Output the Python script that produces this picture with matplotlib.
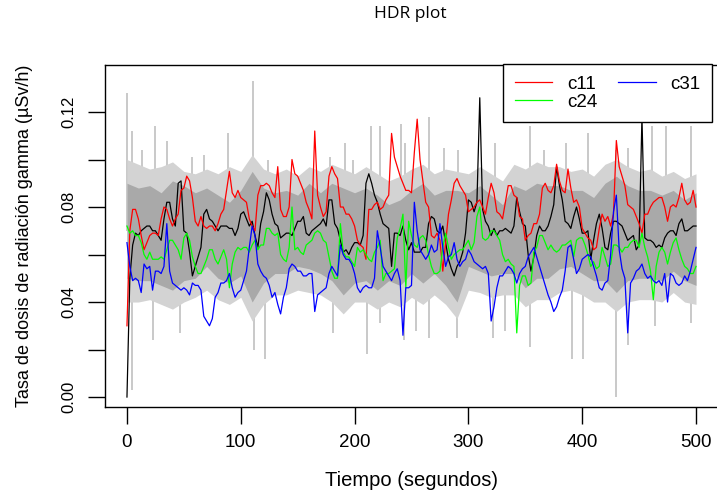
import numpy as np
import matplotlib
matplotlib.use("Agg")
import matplotlib.pyplot as plt
from matplotlib.lines import Line2D

# readings every 5 s (t = 0, 5, ..., 500) and in between (t = 2.5, 7.5, ..., 497.5)
t_main = np.arange(0, 501, 5)
t_half = np.arange(2.5, 500, 5)

c11 = [0.030, 0.079, 0.075, 0.062, 0.068, 0.069, 0.075, 0.079, 0.072, 0.077,
       0.088, 0.091, 0.074, 0.076, 0.071, 0.072, 0.073, 0.079, 0.095, 0.084,
       0.084, 0.082, 0.072, 0.085, 0.089, 0.089, 0.084, 0.079, 0.076, 0.100,
       0.093, 0.087, 0.079, 0.112, 0.080, 0.078, 0.097, 0.092, 0.080, 0.077,
       0.072, 0.064, 0.058, 0.079, 0.082, 0.080, 0.085, 0.101, 0.093, 0.087,
       0.086, 0.117, 0.091, 0.080, 0.067, 0.066, 0.065, 0.083, 0.092, 0.087,
       0.078, 0.080, 0.083, 0.077, 0.090, 0.078, 0.075, 0.089, 0.085, 0.076,
       0.066, 0.069, 0.073, 0.088, 0.087, 0.089, 0.091, 0.086, 0.088, 0.083,
       0.071, 0.067, 0.062, 0.071, 0.074, 0.072, 0.108, 0.093, 0.081, 0.079,
       0.073, 0.077, 0.080, 0.083, 0.084, 0.074, 0.081, 0.084, 0.083, 0.082,
       0.080]
c11_half = [0.070, 0.079, 0.068, 0.065, 0.069, 0.068, 0.080, 0.075, 0.075, 0.087,
            0.093, 0.084, 0.072, 0.072, 0.072, 0.070, 0.077, 0.087, 0.086, 0.087,
            0.083, 0.075, 0.070, 0.089, 0.090, 0.086, 0.097, 0.076, 0.080, 0.094,
            0.090, 0.082, 0.075, 0.085, 0.076, 0.093, 0.094, 0.080, 0.077, 0.075,
            0.066, 0.063, 0.079, 0.081, 0.079, 0.083, 0.111, 0.097, 0.090, 0.087,
            0.103, 0.100, 0.082, 0.068, 0.069, 0.053, 0.077, 0.090, 0.089, 0.085,
            0.079, 0.082, 0.080, 0.084, 0.086, 0.077, 0.082, 0.089, 0.084, 0.075,
            0.068, 0.073, 0.077, 0.090, 0.086, 0.098, 0.087, 0.096, 0.082, 0.080,
            0.069, 0.066, 0.063, 0.077, 0.076, 0.077, 0.097, 0.089, 0.080, 0.076,
            0.069, 0.077, 0.082, 0.084, 0.080, 0.080, 0.080, 0.090, 0.081, 0.087]

c24 = [0.072, 0.070, 0.068, 0.060, 0.061, 0.058, 0.059, 0.062, 0.066, 0.062,
       0.067, 0.066, 0.055, 0.052, 0.058, 0.062, 0.056, 0.062, 0.046, 0.061,
       0.062, 0.063, 0.064, 0.062, 0.064, 0.071, 0.068, 0.060, 0.057, 0.080,
       0.063, 0.060, 0.065, 0.069, 0.069, 0.065, 0.053, 0.050, 0.061, 0.059,
       0.055, 0.061, 0.060, 0.057, 0.063, 0.049, 0.052, 0.054, 0.071, 0.046,
       0.068, 0.063, 0.068, 0.060, 0.052, 0.053, 0.069, 0.058, 0.061, 0.062,
       0.066, 0.065, 0.080, 0.066, 0.070, 0.068, 0.060, 0.058, 0.055, 0.047,
       0.051, 0.048, 0.063, 0.068, 0.062, 0.062, 0.062, 0.064, 0.066, 0.066,
       0.067, 0.060, 0.057, 0.055, 0.059, 0.056, 0.064, 0.061, 0.063, 0.066,
       0.063, 0.063, 0.053, 0.055, 0.063, 0.056, 0.065, 0.062, 0.055, 0.052,
       0.055]
c24_half = [0.069, 0.068, 0.065, 0.058, 0.058, 0.058, 0.058, 0.066, 0.064, 0.058,
            0.069, 0.059, 0.052, 0.055, 0.062, 0.058, 0.059, 0.058, 0.056, 0.063,
            0.063, 0.061, 0.066, 0.064, 0.071, 0.069, 0.069, 0.058, 0.063, 0.062,
            0.061, 0.064, 0.066, 0.070, 0.066, 0.059, 0.050, 0.073, 0.059, 0.057,
            0.063, 0.062, 0.058, 0.061, 0.066, 0.052, 0.053, 0.067, 0.077, 0.074,
            0.064, 0.067, 0.066, 0.055, 0.052, 0.063, 0.063, 0.060, 0.062, 0.064,
            0.062, 0.076, 0.067, 0.067, 0.070, 0.066, 0.057, 0.056, 0.027, 0.051,
            0.047, 0.061, 0.068, 0.065, 0.064, 0.061, 0.064, 0.065, 0.059, 0.067,
            0.064, 0.055, 0.054, 0.063, 0.055, 0.064, 0.063, 0.063, 0.065, 0.066,
            0.069, 0.059, 0.041, 0.061, 0.061, 0.061, 0.067, 0.058, 0.054, 0.052]

c31 = [0.065, 0.049, 0.049, 0.056, 0.055, 0.053, 0.052, 0.073, 0.048, 0.046,
       0.046, 0.043, 0.047, 0.045, 0.032, 0.033, 0.044, 0.048, 0.052, 0.042,
       0.045, 0.053, 0.072, 0.056, 0.051, 0.047, 0.044, 0.035, 0.046, 0.056,
       0.053, 0.051, 0.052, 0.036, 0.044, 0.046, 0.055, 0.051, 0.060, 0.058,
       0.052, 0.044, 0.047, 0.046, 0.070, 0.055, 0.051, 0.052, 0.049, 0.046,
       0.047, 0.070, 0.060, 0.060, 0.061, 0.073, 0.055, 0.060, 0.058, 0.057,
       0.062, 0.057, 0.055, 0.055, 0.032, 0.046, 0.051, 0.055, 0.052, 0.052,
       0.055, 0.061, 0.059, 0.051, 0.043, 0.036, 0.042, 0.053, 0.064, 0.052,
       0.058, 0.060, 0.055, 0.046, 0.048, 0.060, 0.085, 0.054, 0.027, 0.050,
       0.054, 0.052, 0.051, 0.048, 0.047, 0.040, 0.051, 0.047, 0.051, 0.053,
       0.063]
c31_half = [0.055, 0.050, 0.044, 0.054, 0.045, 0.053, 0.055, 0.053, 0.047, 0.045,
            0.045, 0.048, 0.047, 0.034, 0.030, 0.042, 0.048, 0.049, 0.046, 0.044,
            0.049, 0.063, 0.068, 0.053, 0.050, 0.042, 0.039, 0.042, 0.054, 0.055,
            0.053, 0.051, 0.052, 0.043, 0.045, 0.052, 0.053, 0.064, 0.058, 0.056,
            0.046, 0.046, 0.046, 0.050, 0.063, 0.053, 0.049, 0.054, 0.026, 0.046,
            0.082, 0.062, 0.058, 0.064, 0.062, 0.063, 0.059, 0.065, 0.055, 0.058,
            0.060, 0.056, 0.054, 0.052, 0.038, 0.051, 0.053, 0.054, 0.048, 0.054,
            0.059, 0.063, 0.055, 0.047, 0.040, 0.038, 0.045, 0.063, 0.058, 0.054,
            0.059, 0.059, 0.051, 0.045, 0.049, 0.078, 0.062, 0.050, 0.048, 0.053,
            0.056, 0.050, 0.049, 0.049, 0.052, 0.052, 0.048, 0.048, 0.049, 0.058]

median = [0.000, 0.064, 0.068, 0.071, 0.072, 0.070, 0.066, 0.082, 0.075, 0.090,
          0.070, 0.061, 0.055, 0.063, 0.079, 0.074, 0.070, 0.072, 0.071, 0.068,
          0.077, 0.075, 0.074, 0.063, 0.078, 0.083, 0.073, 0.067, 0.069, 0.068,
          0.074, 0.076, 0.068, 0.071, 0.073, 0.072, 0.083, 0.071, 0.061, 0.060,
          0.065, 0.064, 0.090, 0.090, 0.082, 0.073, 0.071, 0.069, 0.068, 0.066,
          0.065, 0.061, 0.063, 0.073, 0.075, 0.069, 0.065, 0.054, 0.055, 0.061,
          0.083, 0.078, 0.126, 0.074, 0.068, 0.068, 0.070, 0.070, 0.072, 0.078,
          0.072, 0.053, 0.068, 0.070, 0.072, 0.081, 0.089, 0.074, 0.071, 0.080,
          0.069, 0.070, 0.066, 0.077, 0.063, 0.069, 0.074, 0.072, 0.066, 0.068,
          0.064, 0.067, 0.066, 0.063, 0.063, 0.069, 0.070, 0.073, 0.070, 0.071,
          0.072]
median_half = [0.050, 0.069, 0.070, 0.072, 0.070, 0.068, 0.075, 0.082, 0.072, 0.091,
               0.069, 0.051, 0.059, 0.077, 0.075, 0.072, 0.072, 0.072, 0.071, 0.071,
               0.078, 0.072, 0.068, 0.073, 0.086, 0.077, 0.072, 0.068, 0.069, 0.071,
               0.074, 0.069, 0.070, 0.072, 0.075, 0.083, 0.073, 0.066, 0.062, 0.063,
               0.065, 0.068, 0.094, 0.085, 0.077, 0.072, 0.055, 0.069, 0.072, 0.062,
               0.061, 0.061, 0.063, 0.076, 0.070, 0.072, 0.058, 0.051, 0.057, 0.069,
               0.082, 0.082, 0.079, 0.072, 0.071, 0.070, 0.071, 0.069, 0.084, 0.073,
               0.060, 0.059, 0.072, 0.070, 0.076, 0.097, 0.083, 0.073, 0.076, 0.075,
               0.069, 0.058, 0.073, 0.071, 0.062, 0.074, 0.073, 0.069, 0.067, 0.062,
               0.118, 0.066, 0.065, 0.064, 0.067, 0.070, 0.068, 0.075, 0.070, 0.072]

# HDR regions, one value every 10 s
t_band = np.arange(0, 501, 10)
inner_hi = [0.090, 0.088, 0.089, 0.086, 0.091, 0.089, 0.086, 0.088, 0.085, 0.082,
            0.087, 0.095, 0.088, 0.086, 0.087, 0.085, 0.090, 0.086, 0.090, 0.088,
            0.086, 0.088, 0.085, 0.081, 0.083, 0.087, 0.090, 0.085, 0.087, 0.087,
            0.086, 0.089, 0.085, 0.081, 0.089, 0.087, 0.090, 0.089, 0.089, 0.087,
            0.087, 0.084, 0.090, 0.093, 0.089, 0.087, 0.087, 0.085, 0.087, 0.083,
            0.086]
inner_lo = [0.050, 0.049, 0.049, 0.047, 0.045, 0.049, 0.050, 0.055, 0.050, 0.048,
            0.051, 0.040, 0.048, 0.052, 0.052, 0.055, 0.054, 0.052, 0.049, 0.043,
            0.048, 0.049, 0.045, 0.049, 0.047, 0.052, 0.048, 0.052, 0.047, 0.040,
            0.055, 0.053, 0.051, 0.052, 0.052, 0.046, 0.050, 0.050, 0.054, 0.055,
            0.052, 0.049, 0.049, 0.044, 0.049, 0.050, 0.050, 0.049, 0.053, 0.049,
            0.047]
outer_hi = [0.100, 0.098, 0.096, 0.097, 0.099, 0.095, 0.094, 0.096, 0.094, 0.097,
            0.095, 0.102, 0.096, 0.094, 0.096, 0.093, 0.097, 0.095, 0.098, 0.096,
            0.094, 0.097, 0.094, 0.091, 0.093, 0.096, 0.098, 0.094, 0.096, 0.095,
            0.094, 0.097, 0.094, 0.091, 0.098, 0.096, 0.099, 0.097, 0.097, 0.095,
            0.096, 0.093, 0.098, 0.100, 0.097, 0.095, 0.096, 0.093, 0.095, 0.092,
            0.094]
outer_lo = [0.040, 0.040, 0.041, 0.039, 0.037, 0.040, 0.042, 0.045, 0.041, 0.039,
            0.042, 0.032, 0.039, 0.043, 0.043, 0.045, 0.044, 0.043, 0.040, 0.035,
            0.040, 0.040, 0.037, 0.040, 0.038, 0.042, 0.039, 0.043, 0.039, 0.033,
            0.045, 0.044, 0.042, 0.043, 0.043, 0.038, 0.041, 0.041, 0.044, 0.045,
            0.043, 0.040, 0.040, 0.036, 0.040, 0.041, 0.041, 0.040, 0.044, 0.040,
            0.039]

# single-second excursions of the outer region
spike_up_t = [0, 4, 13, 25, 35, 57, 68, 89, 111, 124, 178, 192, 199, 214, 222,
              241, 244, 265, 279, 291, 323, 354, 366, 386, 405, 430, 440, 461,
              474, 496]
spike_up_v = [0.128, 0.112, 0.104, 0.114, 0.108, 0.101, 0.102, 0.111, 0.133, 0.100,
              0.101, 0.107, 0.100, 0.114, 0.114, 0.115, 0.107, 0.118, 0.105, 0.104,
              0.107, 0.114, 0.104, 0.107, 0.111, 0.104, 0.105, 0.114, 0.114, 0.114]
spike_dn_t = [4, 23, 47, 112, 121, 181, 211, 222, 243, 254, 265, 290, 322, 332,
              354, 391, 401, 430, 440, 464, 496]
spike_dn_v = [0.003, 0.024, 0.027, 0.020, 0.016, 0.027, 0.018, 0.031, 0.024, 0.028,
              0.025, 0.025, 0.025, 0.028, 0.021, 0.016, 0.016, 0.000, 0.022, 0.030,
              0.031]

t_line = np.concatenate([t_main, t_half])
order = np.argsort(t_line)


def full(a, b):
    return np.concatenate([a, b])[order]


series = [("c11", full(c11, c11_half), "#FF0000"),
          ("c24", full(c24, c24_half), "#00FF00"),
          ("c31", full(c31, c31_half), "#0000FF")]

W, H = 717, 494
fig = plt.figure(figsize=(W / 100, H / 100), dpi=100)
ax = fig.add_axes([105 / W, 1 - 407 / H, (719 - 105) / W, (407 - 65) / H])

light, dark = "#D3D3D3", "#A9A9A9"
ax.vlines(spike_up_t, 0.07, spike_up_v, color="#C0C0C0", lw=1.2, zorder=1)
ax.vlines(spike_dn_t, 0.07, spike_dn_v, color="#C0C0C0", lw=1.2, zorder=1)
ax.fill_between(t_band, outer_lo, outer_hi, color=light, lw=0, zorder=2)
ax.fill_between(t_band, inner_lo, inner_hi, color=dark, lw=0, zorder=3)

ax.plot(t_line[order], full(median, median_half), color="black", lw=0.9, zorder=4)
for name, vals, col in series:
    ax.plot(t_line[order], vals, color=col, lw=0.9, zorder=5)

ax.set_xlim(-19.3, 520.2)
ax.set_ylim(-0.0042, 0.1398)
ax.set_xticks([0, 100, 200, 300, 400, 500])
ax.set_yticks(np.arange(0, 0.121, 0.02))
ax.set_yticklabels(["0.00", "", "0.04", "", "0.08", "", "0.12"])
ax.tick_params(axis="both", direction="out", length=12, width=1,
               labelfontfamily="Liberation Sans")
ax.tick_params(axis="x", pad=7.5, labelsize=13.5)
ax.tick_params(axis="y", pad=8.5, labelsize=12)
for lab in ax.get_yticklabels():
    lab.set_rotation(90)
    lab.set_va("center")
for sp in ax.spines.values():
    sp.set_linewidth(1)

fig.text(25 / W, 1 - 236 / H, "Tasa de dosis de radiación gamma (µSv/h)", rotation=90,
         ha="center", va="center", family="Liberation Sans", fontsize=13)
fig.text(412 / W, 1 - 480 / H, "Tiempo (segundos)", ha="center", va="center",
         family="Liberation Sans", fontsize=14.5)
fig.text(410 / W, 1 - 14 / H, "HDR plot", ha="center", va="center",
         family="Open Sans", fontsize=12.5)

handles = [Line2D([], [], color=c, lw=0.9) for _, _, c in series]
leg = ax.legend(handles, [n for n, _, _ in series], ncol=2, loc="upper left",
                bbox_to_anchor=(503 / W, 1 - 64 / H), bbox_transform=fig.transFigure,
                prop={"family": "Liberation Sans", "size": 13.5}, frameon=True,
                fancybox=False, framealpha=1, edgecolor="black", borderpad=0.62,
                handlelength=2.0, handletextpad=0.8, columnspacing=1.1,
                labelspacing=0.04, borderaxespad=0)
leg.get_frame().set_linewidth(1)
leg.set_zorder(10)

fig.savefig("out.png", dpi=100)
